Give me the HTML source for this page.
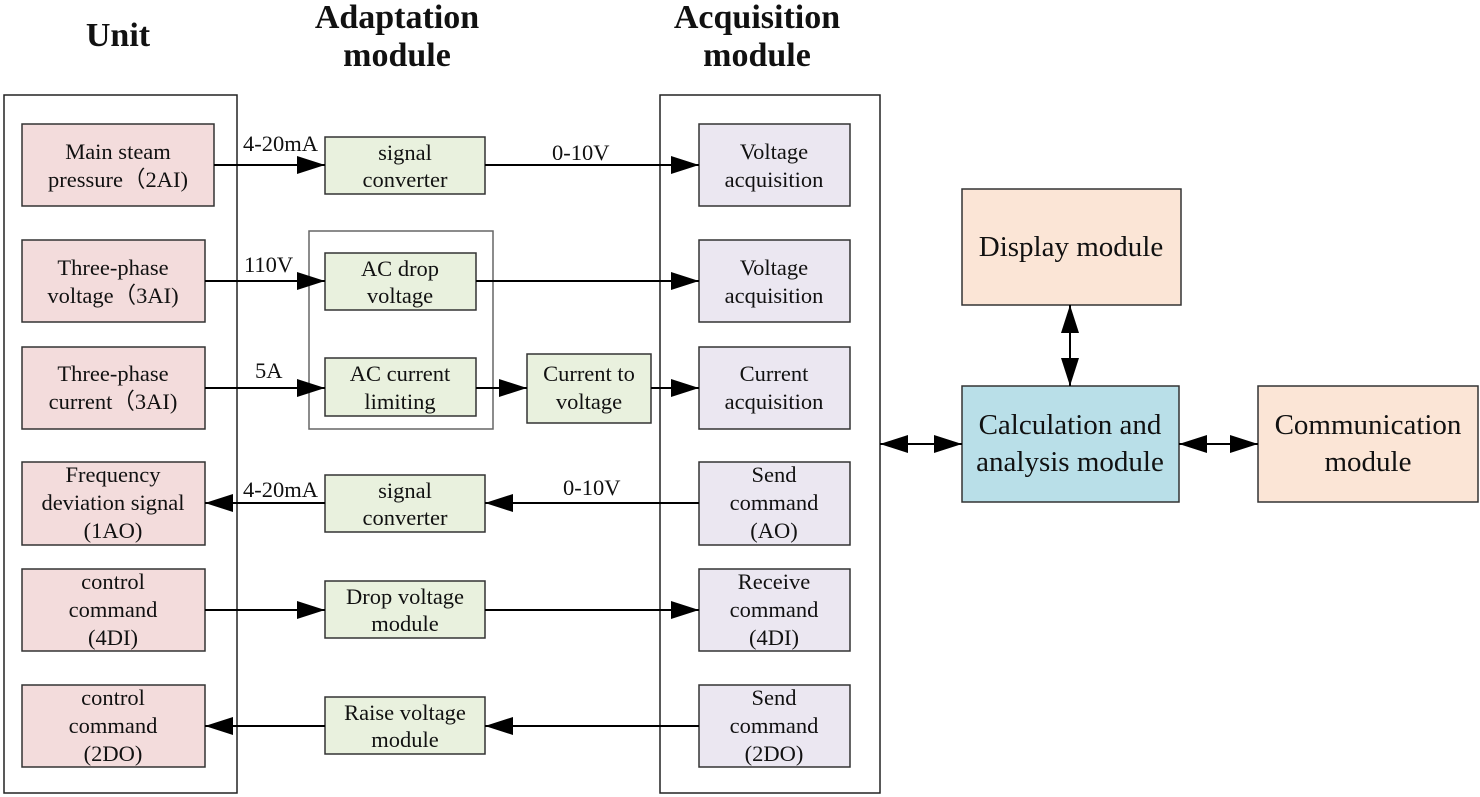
<!DOCTYPE html>
<html><head><meta charset="utf-8"><style>
body{margin:0;background:#fff}
svg{display:block}
text{font-family:"Liberation Serif",serif;fill:#111}
.b{font-size:22.5px;text-anchor:middle}
.h{font-size:34px;font-weight:bold;text-anchor:middle}
.l{font-size:22.5px}
.big{font-size:29px;text-anchor:middle}
</style></head><body>
<svg width="1480" height="797" viewBox="0 0 1480 797">
<defs>
<marker id="a" viewBox="0 0 28 18" refX="28" refY="9" markerWidth="28" markerHeight="18" markerUnits="userSpaceOnUse" orient="auto-start-reverse"><path d="M0,0L28,9L0,18z" fill="#000"/></marker>
</defs>
<text class="h" x="118" y="46">Unit</text>
<text class="h" x="397" y="28">Adaptation</text><text class="h" x="397" y="66">module</text>
<text class="h" x="757" y="28">Acquisition</text><text class="h" x="757" y="66">module</text>
<g fill="none" stroke="#222" stroke-width="1.5">
<rect x="4" y="95" width="233" height="698"/>
<rect x="660" y="95" width="220" height="698"/>
<rect x="309" y="231" width="184" height="198" stroke="#666"/>
</g>
<g fill="#f3dcdc" stroke="#333" stroke-width="1.5">
<rect x="22" y="124" width="192" height="82"/>
<rect x="22" y="240" width="183" height="82"/>
<rect x="22" y="347" width="183" height="82"/>
<rect x="22" y="462" width="183" height="83"/>
<rect x="22" y="569" width="183" height="82"/>
<rect x="22" y="685" width="183" height="82"/>
</g>
<g fill="#e9f1de" stroke="#333" stroke-width="1.5">
<rect x="325" y="137" width="160" height="57"/>
<rect x="325" y="253" width="151" height="57"/>
<rect x="325" y="358" width="151" height="58"/>
<rect x="527" y="354" width="124" height="69"/>
<rect x="325" y="475" width="160" height="57"/>
<rect x="325" y="581" width="160" height="57"/>
<rect x="325" y="697" width="160" height="57"/>
</g>
<g fill="#ebe7f1" stroke="#333" stroke-width="1.5">
<rect x="699" y="124" width="151" height="82"/>
<rect x="699" y="240" width="151" height="82"/>
<rect x="699" y="347" width="151" height="82"/>
<rect x="699" y="462" width="151" height="83"/>
<rect x="699" y="569" width="151" height="82"/>
<rect x="699" y="685" width="151" height="82"/>
</g>
<rect x="962" y="189" width="219" height="116" fill="#fbe5d6" stroke="#333" stroke-width="1.5"/>
<rect x="962" y="386" width="217" height="116" fill="#b9dfe8" stroke="#333" stroke-width="1.5"/>
<rect x="1258" y="386" width="220" height="116" fill="#fbe5d6" stroke="#333" stroke-width="1.5"/>
<g stroke="#000" stroke-width="2" marker-end="url(#a)">
<line x1="214" y1="165" x2="325" y2="165"/>
<line x1="485" y1="165" x2="699" y2="165"/>
<line x1="205" y1="281" x2="325" y2="281"/>
<line x1="476" y1="281" x2="699" y2="281"/>
<line x1="205" y1="388" x2="325" y2="388"/>
<line x1="476" y1="388" x2="527" y2="388"/>
<line x1="651" y1="388" x2="699" y2="388"/>
<line x1="699" y1="503" x2="485" y2="503"/>
<line x1="325" y1="503" x2="205" y2="503"/>
<line x1="205" y1="610" x2="325" y2="610"/>
<line x1="485" y1="610" x2="699" y2="610"/>
<line x1="699" y1="726" x2="485" y2="726"/>
<line x1="325" y1="726" x2="205" y2="726"/>
<line x1="880" y1="444" x2="962" y2="444" marker-start="url(#a)"/>
<line x1="1179" y1="444" x2="1258" y2="444" marker-start="url(#a)"/>
<line x1="1070" y1="305" x2="1070" y2="386" marker-start="url(#a)"/>
</g>
<text class="l" x="243" y="151">4-20mA</text>
<text class="l" x="552" y="160">0-10V</text>
<text class="l" x="244" y="272">110V</text>
<text class="l" x="255" y="378">5A</text>
<text class="l" x="243" y="497">4-20mA</text>
<text class="l" x="563" y="495">0-10V</text>
<text class="b" x="118" y="159">Main steam</text><text class="b" x="118" y="187">pressure（2AI)</text>
<text class="b" x="113" y="275">Three-phase</text><text class="b" x="113" y="303">voltage（3AI)</text>
<text class="b" x="113" y="381">Three-phase</text><text class="b" x="113" y="409">current（3AI)</text>
<text class="b" x="113" y="482">Frequency</text><text class="b" x="113" y="510">deviation signal</text><text class="b" x="113" y="538">(1AO)</text>
<text class="b" x="113" y="589">control</text><text class="b" x="113" y="617">command</text><text class="b" x="113" y="645">(4DI)</text>
<text class="b" x="113" y="705">control</text><text class="b" x="113" y="733">command</text><text class="b" x="113" y="761">(2DO)</text>
<text class="b" x="405" y="160">signal</text><text class="b" x="405" y="187">converter</text>
<text class="b" x="400" y="276">AC drop</text><text class="b" x="400" y="303">voltage</text>
<text class="b" x="400" y="381">AC current</text><text class="b" x="400" y="409">limiting</text>
<text class="b" x="589" y="381">Current to</text><text class="b" x="589" y="409">voltage</text>
<text class="b" x="405" y="498">signal</text><text class="b" x="405" y="525">converter</text>
<text class="b" x="405" y="604">Drop voltage</text><text class="b" x="405" y="631">module</text>
<text class="b" x="405" y="720">Raise voltage</text><text class="b" x="405" y="747">module</text>
<text class="b" x="774" y="159">Voltage</text><text class="b" x="774" y="187">acquisition</text>
<text class="b" x="774" y="275">Voltage</text><text class="b" x="774" y="303">acquisition</text>
<text class="b" x="774" y="381">Current</text><text class="b" x="774" y="409">acquisition</text>
<text class="b" x="774" y="482">Send</text><text class="b" x="774" y="510">command</text><text class="b" x="774" y="538">(AO)</text>
<text class="b" x="774" y="589">Receive</text><text class="b" x="774" y="617">command</text><text class="b" x="774" y="645">(4DI)</text>
<text class="b" x="774" y="705">Send</text><text class="b" x="774" y="733">command</text><text class="b" x="774" y="761">(2DO)</text>
<text class="big" x="1071" y="256">Display module</text>
<text class="big" x="1070" y="434">Calculation and</text><text class="big" x="1070" y="471">analysis module</text>
<text class="big" x="1368" y="434">Communication</text><text class="big" x="1368" y="471">module</text>
</svg>
</body></html>
